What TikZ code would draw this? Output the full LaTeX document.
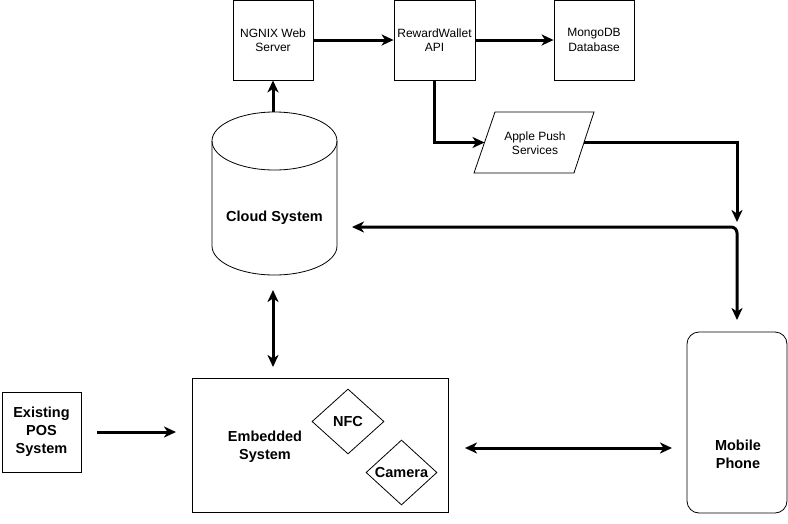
\documentclass[tikz,border=0pt]{standalone}
\usepackage{fontspec}
\setmainfont{Liberation Sans}
\usetikzlibrary{arrows.meta,shapes.geometric}
\begin{document}
\begin{tikzpicture}[x=1pt,y=-1pt,
  shapeline/.style={draw,line width=0.8pt},
  small/.style={font=\fontsize{12}{14.3}\selectfont,align=center},
  big/.style={font=\fontsize{14.5}{18}\selectfont\bfseries,align=center},
  sqbox/.style={shapeline,small,minimum width=80pt,minimum height=80pt,inner sep=0pt},
  dia/.style={shapeline,diamond,big,inner sep=0pt},
  tip/.style={},
  conn/.style={line width=3pt,-{Stealth[length=12pt,width=11pt,inset=3.5pt]}},
  bconn/.style={line width=3pt,{Stealth[length=12pt,width=11pt,inset=3.5pt]}-{Stealth[length=12pt,width=11pt,inset=3.5pt]}},
]
\useasboundingbox (0,0) rectangle (788,523);

% top boxes
\node[sqbox] (ngnix) at (273,40) {NGNIX Web\\Server};
\node[sqbox,minimum width=81pt] (rw) at (434.5,40) {RewardWallet\\API};
\node[sqbox] (mongo) at (594,40) {MongoDB\\Database};

% Apple push parallelogram
\draw[shapeline] (474,173) -- (495,112) -- (594,112) -- (574,173) -- cycle;
\node[small] (apple) at (535,143) {Apple Push\\Services};
\coordinate (appleW) at (484.5,142.5);
\coordinate (appleE) at (584,142.5);

% cloud system cylinder
\draw[shapeline] (274.5,141) ellipse[x radius=62.5,y radius=29];
\draw[shapeline] (212,141) -- (212,246) arc[start angle=180,end angle=0,x radius=62.5,y radius=29] -- (337,141);
\node[big] (cloud) at (274.5,218) {Cloud System};
\coordinate (cloudN) at (273,112);
\coordinate (cloudE) at (352,227);
\coordinate (cloudS) at (273,290);

% embedded system
\node[shapeline,minimum width=256pt,minimum height=134pt,inner sep=0pt] (emb) at (320,445) {};
\node[big] (embtxt) at (265,447) {Embedded\\System};
\node[dia,minimum width=72pt,minimum height=65pt] (nfc) at (348,421.5) {NFC};
\node[dia,minimum width=71pt,minimum height=65pt] (cam) at (401.5,472.5) {Camera};
\coordinate (embN) at (273,367);
\coordinate (embW) at (176,432);
\coordinate (embE) at (465,448);

% POS
\node[shapeline,big,minimum width=79pt,minimum height=80pt,inner sep=0pt] (pos) at (41.5,432) {Existing\\POS\\System};
\coordinate (posE) at (97,432);

% phone
\node[shapeline,rounded corners=12pt,minimum width=100pt,minimum height=181pt,inner sep=0pt] (phone) at (737,422.5) {};
\node[big] (phonetxt) at (738,454) {Mobile\\Phone};
\coordinate (phoneN) at (737,320);
\coordinate (phoneW) at (672,448);
\coordinate (junction) at (737,222);

% connectors
\draw[conn] (ngnix.east) -- (rw.west);
\draw[conn] (rw.east) -- (mongo.west);
\draw[conn] (rw.south) |- (appleW);
\draw[conn] (appleE) -| (junction);
\draw[bconn,rounded corners=6pt] (phoneN) |- (cloudE);
\draw[conn] (cloudN) -- (ngnix.south);
\draw[bconn] (cloudS) -- (embN);
\draw[conn] (posE) -- (embW);
\draw[bconn] (embE) -- (phoneW);
\end{tikzpicture}
\end{document}
